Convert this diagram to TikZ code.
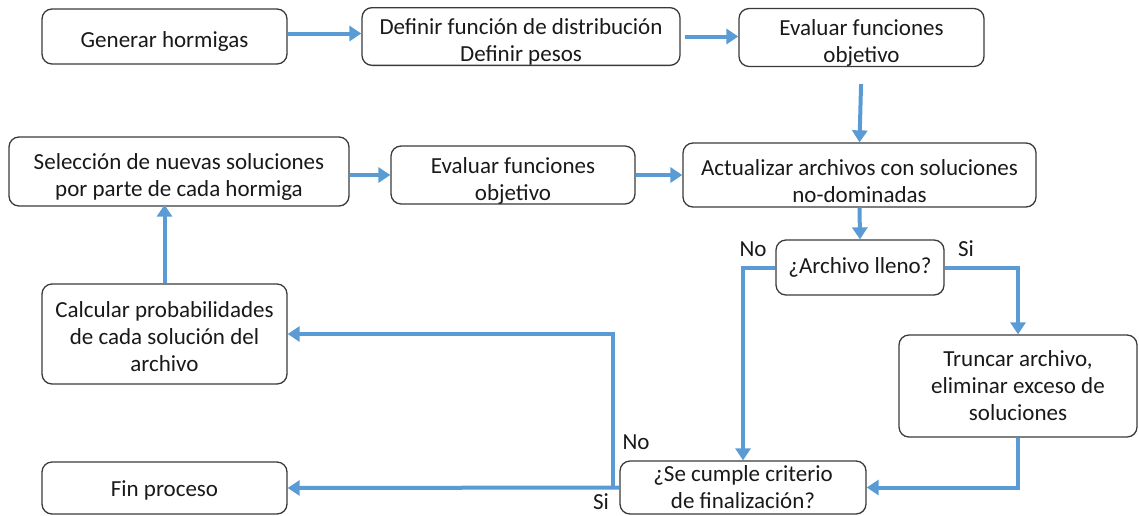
\documentclass[tikz,border=0pt]{standalone}
\usepackage{fontspec}
\setmainfont{Carlito}
\usetikzlibrary{arrows.meta}
\definecolor{flow}{HTML}{5B9BD5}
\definecolor{edge}{HTML}{3A3A3A}
\newcommand\tpad[1]{\rule{0pt}{#1pt}}
\begin{document}
\begin{tikzpicture}[x=1pt,y=-1pt,
  box/.style={draw=edge,line width=1.3pt,rounded corners=10pt,align=center,
    font=\fontsize{23}{27}\selectfont,inner sep=0pt,text=black!90},
  conn/.style={draw=flow,line width=4pt,-{Triangle[width=15pt,length=12pt]}},
  lbl/.style={font=\fontsize{23}{26}\selectfont,text=black!90,inner sep=0pt}]
\useasboundingbox (0,0) rectangle (1139,515);
\node[box,minimum width=245pt,minimum height=55pt] (b1) at (164.5,36.5) {\tpad{25}Generar hormigas};
\node[box,minimum width=318pt,minimum height=55pt] (b2) at (521,36.5) {\tpad{27}Definir función de distribución\\Definir pesos};
\node[box,minimum width=245pt,minimum height=55pt] (b3) at (861.5,37.5) {\tpad{27}Evaluar funciones\\objetivo};
\node[box,minimum width=353pt,minimum height=64pt] (b4) at (859.5,175) {\tpad{28}Actualizar archivos con soluciones\\no-dominadas};
\node[box,minimum width=340pt,minimum height=69pt] (b5) at (179,171.5) {\tpad{27}Selección de nuevas soluciones\\por parte de cada hormiga};
\node[box,minimum width=244pt,minimum height=56pt] (b6) at (513,175) {\tpad{27}Evaluar funciones\\objetivo};
\node[box,minimum width=168pt,minimum height=55pt] (b7) at (860,267.5) {¿Archivo lleno?};
\node[box,minimum width=238pt,minimum height=102pt] (b8) at (1018,386) {Truncar archivo,\\eliminar exceso de\\soluciones};
\node[box,minimum width=245pt,minimum height=100pt] (b9) at (164.5,334) {\tpad{22}Calcular probabilidades\\de cada solución del\\archivo};
\node[box,minimum width=245pt,minimum height=52pt] (b10) at (164.5,488) {\tpad{20}Fin proceso};
\node[box,minimum width=246pt,minimum height=53pt] (b11) at (743,487.5) {¿Se cumple criterio\\de finalización?};
\coordinate (j) at (613,487.5);
\draw[conn] ([yshift=3pt]b1.east) -- ([yshift=3pt]b2.west);
\draw[conn,shorten <=4pt] (b2.east) -- (b2.east -| b3.west);
\draw[conn,shorten <=17pt] (b3.south) -- (b4.north);
\draw[conn] (b5.east |- b6.west) -- (b6.west);
\draw[conn] (b6.east) -- (b4.west);
\draw[conn] (b4.south) -- (b7.north);
\draw[conn] (b7.west) -| (b11.north);
\draw[conn] (b7.east) -| (b8.north);
\draw[conn] (b8.south) |- (b11.east);
\draw[conn] (b11.west) -- (b10.east);
\draw[conn] (j) |- (b9.east);
\draw[conn,shorten >=-2pt] (b9.north) -- (b9.north |- b5.south);
\node[lbl] (l1) at (753,249) {No};
\node[lbl] (l2) at (966,249) {Si};
\node[lbl] (l3) at (636,442) {No};
\node[lbl] (l4) at (601,502) {Si};
\end{tikzpicture}
\end{document}
